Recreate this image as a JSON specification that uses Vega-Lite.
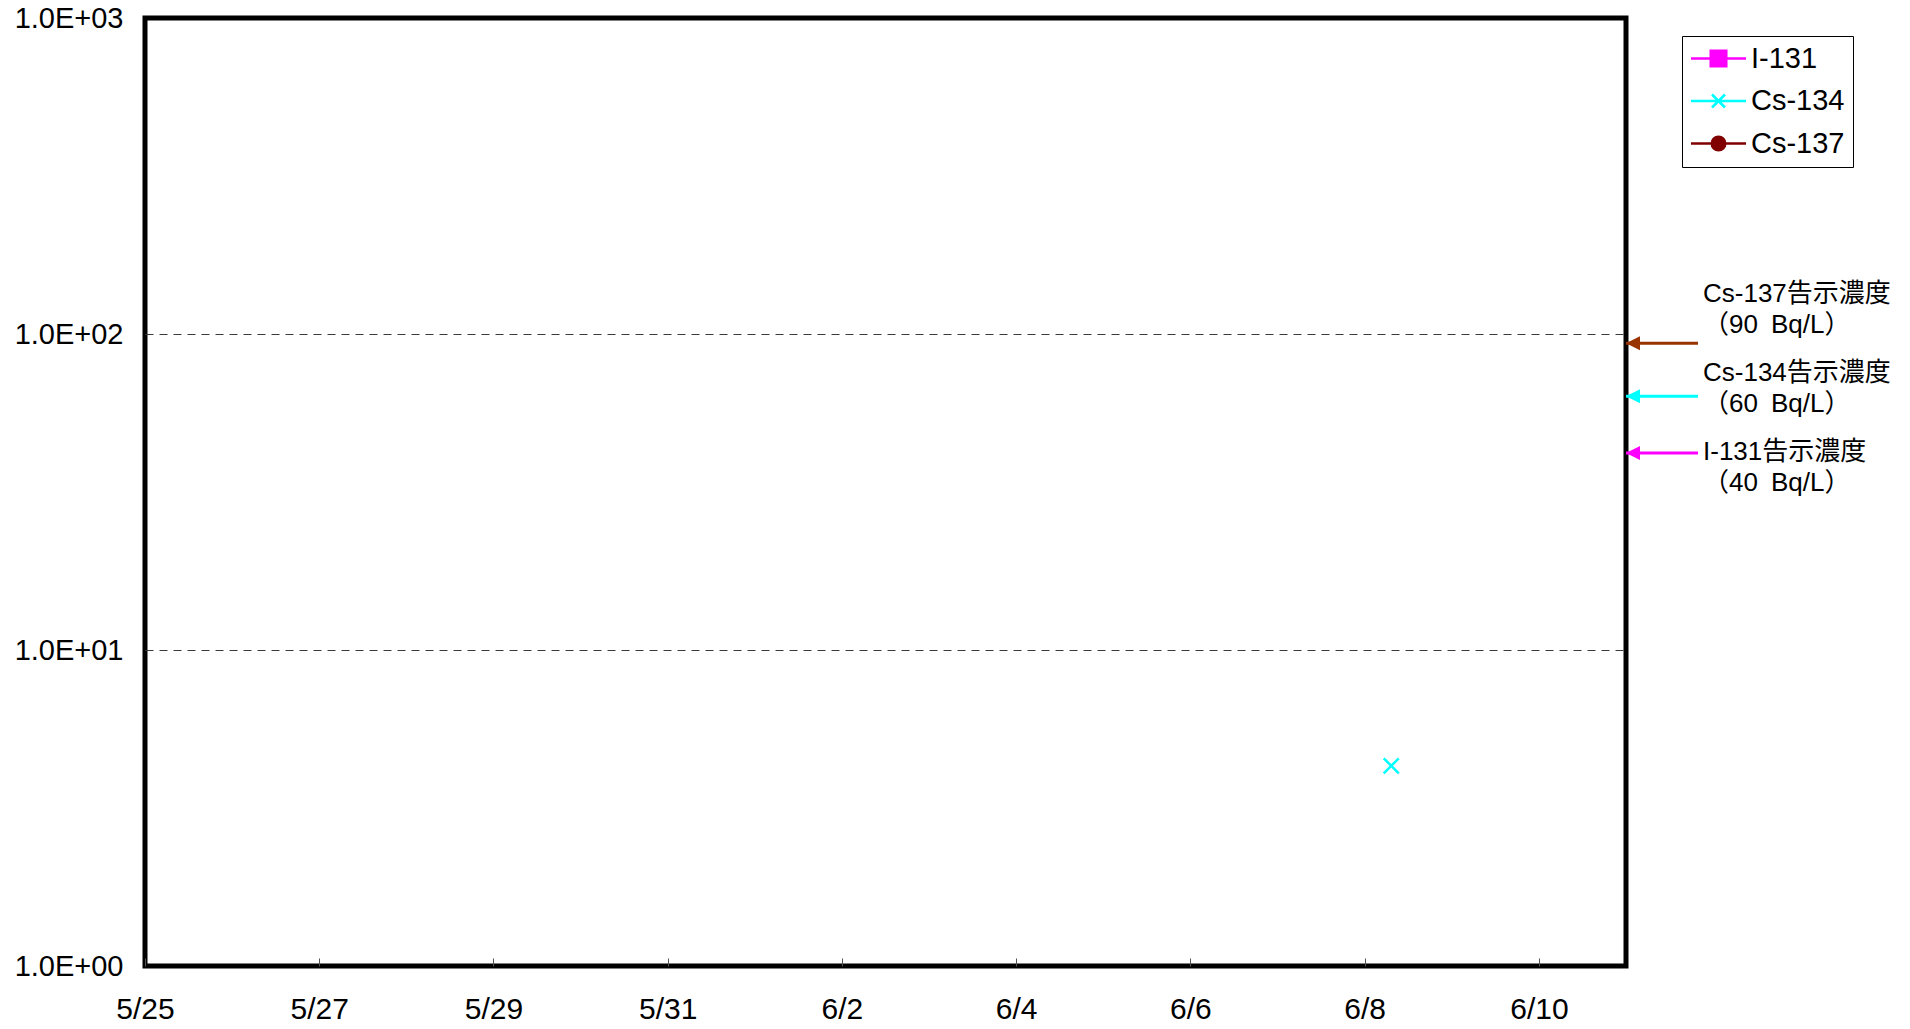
{
  "$schema": "https://vega.github.io/schema/vega-lite/v6.json",
  "autosize": {"type": "none"},
  "width": 1481,
  "height": 948,
  "padding": {"left": 145, "top": 18, "right": 284, "bottom": 63},
  "background": "white",
  "config": {
    "font": "Liberation Sans, Noto Sans CJK JP",
    "view": {"stroke": "black", "strokeWidth": 5},
    "axis": {"labelFont": "Liberation Sans", "labelColor": "black", "labelFontSize": 29, "title": null}
  },
  "layer": [
    {
      "data": {"values": [
        {"date": "2011-06-08T07:20", "nuclide": "Cs-134", "value": 4.3}
      ]},
      "transform": [{"filter": "false"}],
      "mark": {"type": "point", "filled": true, "opacity": 1, "strokeWidth": 2.5},
      "encoding": {
        "x": {"field": "date", "type": "temporal"},
        "y": {"field": "value", "type": "quantitative"},
        "fill": {
          "field": "nuclide", "type": "nominal",
          "scale": {"domain": ["I-131", "Cs-134", "Cs-137"], "range": ["#ff00ff", "#00ffff", "#800000"]},
          "legend": {
            "title": null,
            "orient": "none", "legendX": 1537, "legendY": 18,
            "strokeColor": "black", "padding": 8,
            "symbolSize": 650, "symbolStrokeWidth": 2.5, "symbolOpacity": 1, "symbolOffset": 14,
            "labelFont": "Liberation Sans", "labelFontSize": 29, "labelColor": "black", "labelOffset": 18,
            "rowPadding": 12.5
          }
        },
        "stroke": {
          "field": "nuclide", "type": "nominal",
          "scale": {"domain": ["I-131", "Cs-134", "Cs-137"], "range": ["#ff00ff", "#00ffff", "#800000"]},
          "legend": {
            "title": null,
            "orient": "none", "legendX": 1537, "legendY": 18,
            "strokeColor": "black", "padding": 8,
            "symbolSize": 650, "symbolStrokeWidth": 2.5, "symbolOpacity": 1, "symbolOffset": 14,
            "labelFont": "Liberation Sans", "labelFontSize": 29, "labelColor": "black", "labelOffset": 18,
            "rowPadding": 12.5
          }
        },
        "shape": {
          "field": "nuclide", "type": "nominal",
          "scale": {"domain": ["I-131", "Cs-134", "Cs-137"], "range": [
            "M-2.16,0H2.16M-0.61,-0.61H0.61V0.61H-0.61Z",
            "M-2.16,0H2.16M-0.51,-0.51L0.51,0.51M-0.51,0.51L0.51,-0.51",
            "M-2.16,0H2.16M0.53,0A0.53,0.53,0,1,1,-0.53,0A0.53,0.53,0,1,1,0.53,0Z"
          ]},
          "legend": {
            "title": null,
            "orient": "none", "legendX": 1537, "legendY": 18,
            "strokeColor": "black", "padding": 8,
            "symbolSize": 650, "symbolStrokeWidth": 2.5, "symbolOpacity": 1, "symbolOffset": 14,
            "labelFont": "Liberation Sans", "labelFontSize": 29, "labelColor": "black", "labelOffset": 18,
            "rowPadding": 12.5
          }
        }
      }
    },
    {
      "data": {"values": [
        {"date": "2011-06-08T07:20", "nuclide": "Cs-134", "value": 4.3}
      ]},
      "mark": {"type": "point", "filled": false, "opacity": 1, "strokeWidth": 2.5, "size": 225, "shape": "M-1,-1L1,1M-1,1L1,-1"},
      "encoding": {
        "x": {
          "field": "date", "type": "temporal",
          "scale": {"domain": [{"year": 2011, "month": "May", "date": 25}, {"year": 2011, "month": "Jun", "date": 11}], "nice": false},
          "axis": {
            "format": "%-m/%-d",
            "values": [
              {"year": 2011, "month": "May", "date": 25}, {"year": 2011, "month": "May", "date": 27},
              {"year": 2011, "month": "May", "date": 29}, {"year": 2011, "month": "May", "date": 31},
              {"year": 2011, "month": "Jun", "date": 2}, {"year": 2011, "month": "Jun", "date": 4},
              {"year": 2011, "month": "Jun", "date": 6}, {"year": 2011, "month": "Jun", "date": 8},
              {"year": 2011, "month": "Jun", "date": 10}
            ],
            "domain": false, "grid": false, "ticks": true, "tickSize": -8, "tickColor": "#555", "tickWidth": 1,
            "labelFontSize": 30,
            "labelPadding": 36, "labelBaseline": "top", "labelFlush": false, "labelOverlap": false
          }
        },
        "y": {
          "field": "value", "type": "quantitative",
          "scale": {"type": "log", "domain": [1, 1000], "nice": false},
          "axis": {
            "values": [1, 10, 100, 1000],
            "labelExpr": "'1.0E+0' + round(log(datum.value)/LN10)",
            "domain": false, "ticks": false, "labelPadding": 22, "labelFlush": false, "labelOverlap": false,
            "grid": true, "gridDash": [8, 6], "gridWidth": 1,
            "gridColor": {"condition": {"test": "datum.value === 10 || datum.value === 100", "value": "#3a3a3a"}, "value": "transparent"}
          }
        },
        "stroke": {"field": "nuclide", "type": "nominal", "legend": null}
      }
    },
    {
      "data": {"values": [
        {"nuclide": "Cs-137", "limit": 93.5, "textAt": 126, "label": ["Cs-137告示濃度", "（90\u2002Bq/L）"]},
        {"nuclide": "Cs-134", "limit": 63.5, "textAt": 71, "label": ["Cs-134告示濃度", "（60\u2002Bq/L）"]},
        {"nuclide": "I-131", "limit": 42, "textAt": 40, "label": ["I-131告示濃度", "（40\u2002Bq/L）"]}
      ]},
      "encoding": {
        "color": {
          "field": "nuclide", "type": "nominal",
          "scale": {"domain": ["I-131", "Cs-134", "Cs-137"], "range": ["#ff00ff", "#00ffff", "#993300"]},
          "legend": null
        }
      },
      "layer": [
        {
          "mark": {"type": "rule", "strokeWidth": 3, "clip": false, "x2Offset": 72},
          "encoding": {
            "x": {"datum": {"year": 2011, "month": "Jun", "date": 11}, "type": "temporal"},
            "x2": {"datum": {"year": 2011, "month": "Jun", "date": 11}},
            "y": {"field": "limit", "type": "quantitative"}
          }
        },
        {
          "mark": {"type": "point", "filled": true, "opacity": 1, "clip": false, "shape": "M0,0L2,-1L2,1Z", "size": 196, "strokeWidth": 0},
          "encoding": {
            "x": {"datum": {"year": 2011, "month": "Jun", "date": 11}, "type": "temporal"},
            "y": {"field": "limit", "type": "quantitative"}
          }
        },
        {
          "mark": {"type": "text", "clip": false, "align": "left", "baseline": "alphabetic", "dx": 77, "fontSize": 26, "lineHeight": 31, "font": "Liberation Sans, Noto Sans CJK JP"},
          "encoding": {
            "x": {"datum": {"year": 2011, "month": "Jun", "date": 11}, "type": "temporal"},
            "y": {"field": "textAt", "type": "quantitative"},
            "text": {"field": "label"},
            "color": {"value": "black"}
          }
        }
      ]
    }
  ]
}
